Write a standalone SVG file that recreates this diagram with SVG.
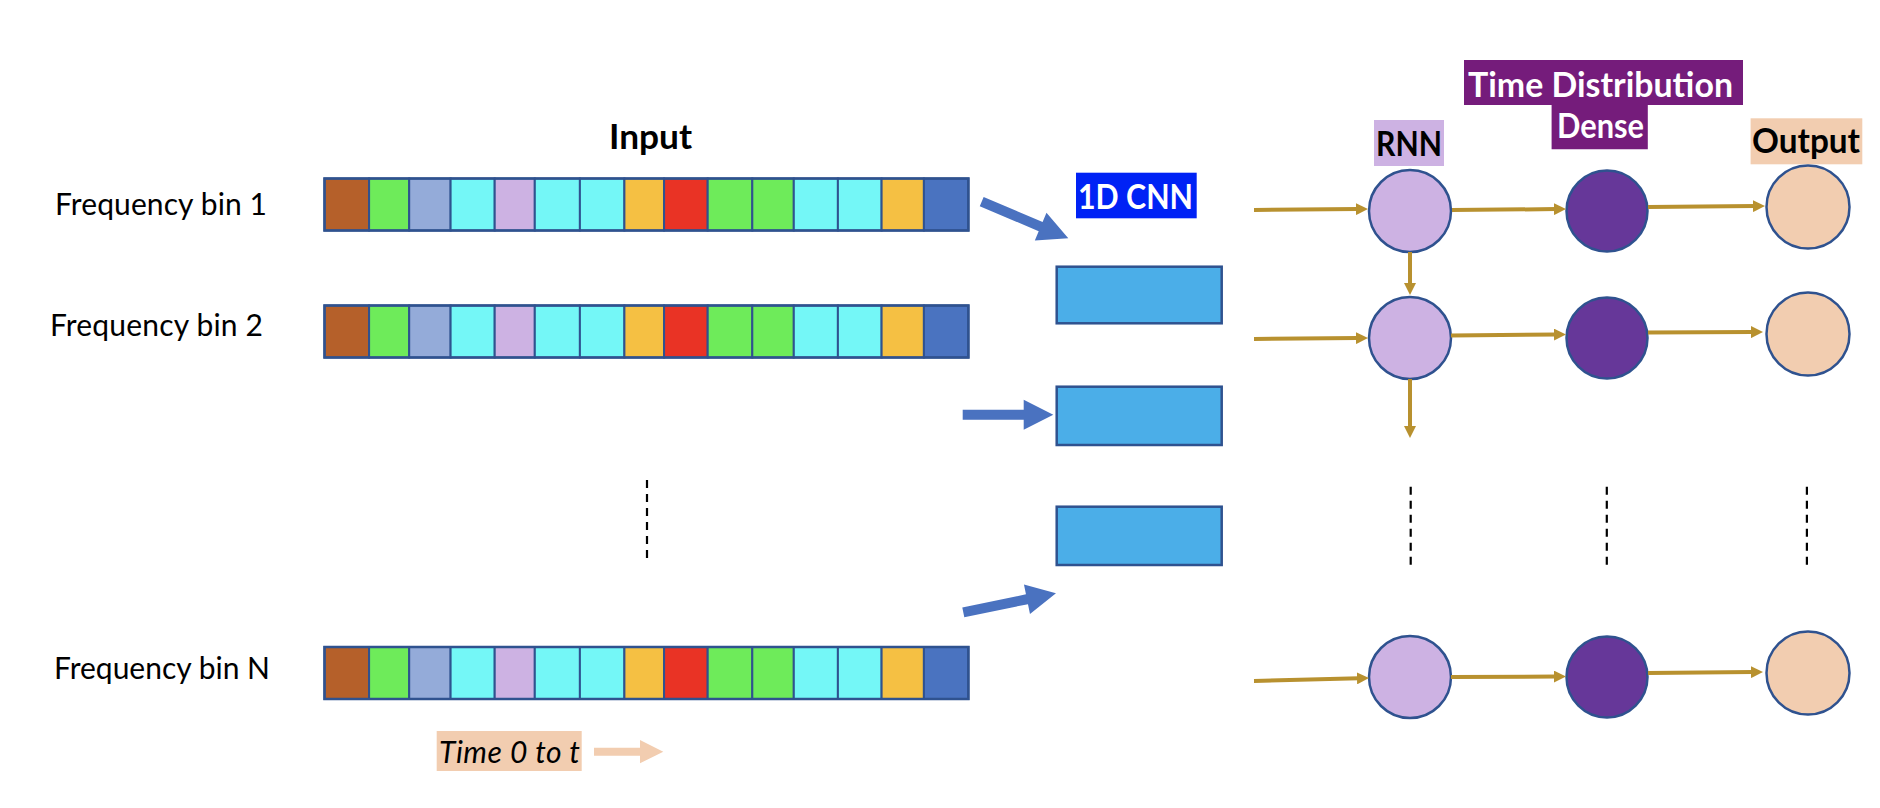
<svg xmlns="http://www.w3.org/2000/svg" width="1880" height="808" viewBox="0 0 1880 808">
<style>
.lbl{font-family:Lato,"Open Sans","Liberation Sans",sans-serif;font-size:30px;fill:#000}
.bold{font-family:Lato,"Open Sans","Liberation Sans",sans-serif;font-weight:bold;font-size:34px}
.cell{stroke:#2F528F;stroke-width:2}
.c0{fill:#B5602A}.c1{fill:#6EEB5A}.c2{fill:#94ABD9}.c3{fill:#74F7F7}.c4{fill:#CDB2E3}.c5{fill:#F5C043}.c6{fill:#E93325}.c7{fill:#4A73C0}
.cnn{fill:#4BAEE8;stroke:#2F528F;stroke-width:2.5}
.fat{fill:#4A72C0}
.gold{stroke:#B8912F;stroke-width:4;fill:none;marker-end:url(#gh)}
.dash{stroke:#000;stroke-width:2.2;stroke-dasharray:8 6}
.node{stroke:#2F528F;stroke-width:2.5}
.rnn{fill:#CDB2E3}.dense{fill:#663799}.out{fill:#F2CDB0}
</style>
<defs>
<marker id="gh" markerUnits="userSpaceOnUse" markerWidth="12" markerHeight="12" refX="2" refY="6" orient="auto">
<path d="M0,0 L12,6 L0,12 z" fill="#B8912F"/>
</marker>
<g id="rowcells">
<rect class="cell c0" x="324.5" y="0" width="44.6" height="52"/>
<rect class="cell c1" x="369.1" y="0" width="40.1" height="52"/>
<rect class="cell c2" x="409.2" y="0" width="41.4" height="52"/>
<rect class="cell c3" x="450.6" y="0" width="44.1" height="52"/>
<rect class="cell c4" x="494.7" y="0" width="40.1" height="52"/>
<rect class="cell c3" x="534.8" y="0" width="45.1" height="52"/>
<rect class="cell c3" x="579.9" y="0" width="44.5" height="52"/>
<rect class="cell c5" x="624.4" y="0" width="39.7" height="52"/>
<rect class="cell c6" x="664.1" y="0" width="43.6" height="52"/>
<rect class="cell c1" x="707.7" y="0" width="44.6" height="52"/>
<rect class="cell c1" x="752.3" y="0" width="41.5" height="52"/>
<rect class="cell c3" x="793.8" y="0" width="44.1" height="52"/>
<rect class="cell c3" x="837.9" y="0" width="43.7" height="52"/>
<rect class="cell c5" x="881.6" y="0" width="42.3" height="52"/>
<rect class="cell c7" x="923.9" y="0" width="44.5" height="52"/>
<rect x="324.5" y="0" width="643.9" height="52" fill="none" stroke="#2F528F" stroke-width="2.5"/>
</g>
</defs>
<rect width="1880" height="808" fill="#fff"/>

<g id="input-title"><text class="bold" x="609" y="149" textLength="83" lengthAdjust="spacingAndGlyphs">Input</text></g>

<g id="bin1">
<text class="lbl" x="55" y="215" textLength="212">Frequency bin 1</text>
<use href="#rowcells" y="178.5"/>
</g>
<g id="bin2">
<text class="lbl" x="50" y="336" textLength="213">Frequency bin 2</text>
<use href="#rowcells" y="305.5"/>
</g>
<g id="binN">
<text class="lbl" x="54" y="679" textLength="216">Frequency bin N</text>
<use href="#rowcells" y="647"/>
</g>

<g id="time-label">
<rect x="436.7" y="731" width="145" height="40" fill="#F2CDB0"/>
<text class="lbl" font-style="italic" x="439" y="763" textLength="141">Time 0 to t</text>
<polygon points="594,747.7 640,747.7 640,740 663.3,751.7 640,763.3 640,755.7 594,755.7" fill="#F2CDB0"/>
</g>

<g id="cnn-label">
<rect x="1076" y="172.7" width="120.7" height="45.6" fill="#0022F5"/>
<text class="bold" x="1078" y="209" fill="#fff" textLength="115" lengthAdjust="spacingAndGlyphs">1D CNN</text>
</g>
<g id="cnn1"><rect class="cnn" x="1056.7" y="266.7" width="165" height="56.6"/></g>
<g id="cnn2"><rect class="cnn" x="1056.7" y="386.7" width="165" height="58.3"/></g>
<g id="cnn3"><rect class="cnn" x="1056.7" y="506.7" width="165" height="58.3"/></g>

<g id="rnn-label">
<rect x="1374" y="120" width="70" height="46" fill="#CDB2E3"/>
<text class="bold" x="1376" y="156" textLength="66" lengthAdjust="spacingAndGlyphs">RNN</text>
</g>
<g id="dense-label">
<path d="M1464,60 H1743 V105 H1647.8 V149.3 H1551.6 V105 H1464 Z" fill="#751C7B"/>
<text class="bold" x="1468" y="97" fill="#fff" font-size="32" textLength="265" lengthAdjust="spacingAndGlyphs">Time Distribution</text>
<text class="bold" x="1557" y="138" fill="#fff" font-size="32" textLength="87" lengthAdjust="spacingAndGlyphs">Dense</text>
</g>
<g id="output-label">
<rect x="1750.6" y="118.3" width="111.7" height="46" fill="#F2CDB0"/>
<text class="bold" x="1752" y="153" textLength="108" lengthAdjust="spacingAndGlyphs">Output</text>
</g>

<g id="rnn1"><circle class="node rnn" cx="1410" cy="211" r="41"/></g>
<g id="dense1"><circle class="node dense" cx="1607" cy="211" r="40.5"/></g>
<g id="out1"><circle class="node out" cx="1808" cy="207" r="41.5"/></g>
<g id="rnn2"><circle class="node rnn" cx="1410" cy="338" r="41"/></g>
<g id="dense2"><circle class="node dense" cx="1607" cy="338" r="40.5"/></g>
<g id="out2"><circle class="node out" cx="1808" cy="334" r="41.5"/></g>
<g id="rnnN"><circle class="node rnn" cx="1410" cy="677" r="41"/></g>
<g id="denseN"><circle class="node dense" cx="1607" cy="677" r="40.5"/></g>
<g id="outN"><circle class="node out" cx="1808" cy="673" r="41.5"/></g>

<g id="connectors">
<polygon class="fat" transform="translate(981.7,201.7) rotate(22.9)" points="0,-5 64,-5 64,-15 94,0 64,15 64,5 0,5"/>
<polygon class="fat" transform="translate(962.7,414.7)" points="0,-5 61,-5 61,-15 90.6,0 61,15 61,5 0,5"/>
<polygon class="fat" transform="translate(963.3,612.3) rotate(-11.6)" points="0,-5 65,-5 65,-15 94.6,0 65,15 65,5 0,5"/>

<line class="gold" x1="1254" y1="210" x2="1358" y2="209.1"/>
<line class="gold" x1="1452" y1="210" x2="1556" y2="209.1"/>
<line class="gold" x1="1648" y1="207" x2="1755" y2="206.1"/>
<line class="gold" x1="1410" y1="252" x2="1410" y2="285"/>

<line class="gold" x1="1254" y1="339" x2="1358" y2="338.1"/>
<line class="gold" x1="1451" y1="335.5" x2="1556" y2="334.6"/>
<line class="gold" x1="1648" y1="332.5" x2="1753" y2="332.1"/>
<line class="gold" x1="1410" y1="379" x2="1410" y2="428"/>

<line class="gold" x1="1254" y1="681" x2="1359" y2="678.3"/>
<line class="gold" x1="1451" y1="677" x2="1556" y2="676.6"/>
<line class="gold" x1="1648" y1="673" x2="1753" y2="672.1"/>

<line class="dash" x1="647" y1="480" x2="647" y2="558"/>
<line class="dash" x1="1410.7" y1="486.7" x2="1410.7" y2="565"/>
<line class="dash" x1="1606.8" y1="486.7" x2="1606.8" y2="565"/>
<line class="dash" x1="1806.9" y1="486.7" x2="1806.9" y2="565"/>
</g>
</svg>
